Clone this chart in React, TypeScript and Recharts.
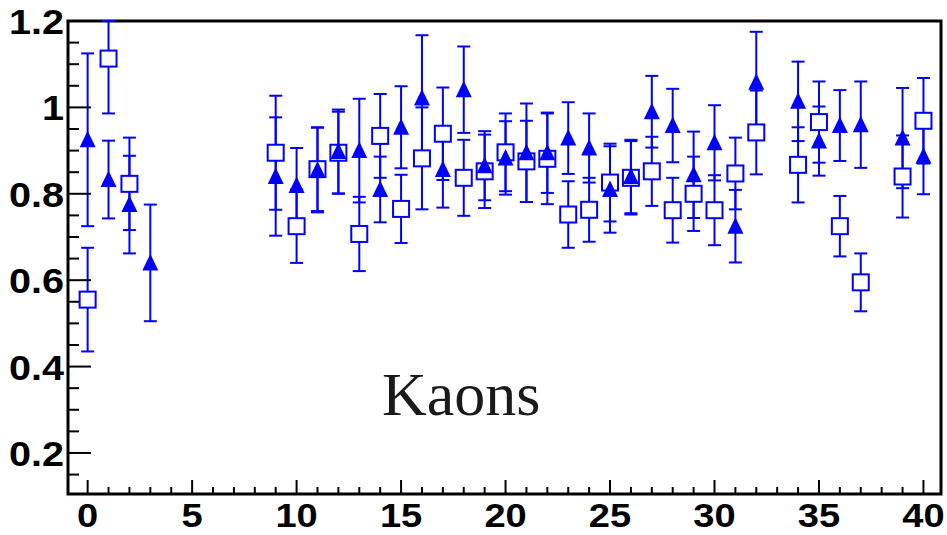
import { ScatterChart, Scatter, XAxis, YAxis, ErrorBar, ReferenceArea } from 'recharts';

// open squares
const squareX = [0, 1, 2, 9, 10, 11, 12, 13, 14, 15, 16, 17, 18, 19, 20, 21, 22, 23, 24, 25, 26, 27, 28, 29, 30, 31, 32, 34, 35, 36, 37, 39, 40];
const squareY = [0.555, 1.113, 0.823, 0.895, 0.725, 0.857, 0.895, 0.707, 0.934, 0.765, 0.882, 0.939, 0.837, 0.852, 0.896, 0.875, 0.881, 0.752, 0.763, 0.826, 0.837, 0.852, 0.762, 0.8, 0.762, 0.847, 0.942, 0.867, 0.966, 0.725, 0.595, 0.84, 0.969];
const squareErr: (number | [number, number])[] = [0.12, [0.127, 0.087], 0.107, 0.132, 0.085, 0.097, 0.095, 0.086, 0.097, 0.079, 0.118, 0.107, 0.088, 0.085, 0.09, 0.094, 0.105, 0.077, 0.074, 0.09, 0.085, 0.08, 0.075, 0.086, 0.081, 0.083, 0.097, 0.087, 0.094, 0.07, 0.067, 0.095, 0.099];

// filled triangles
const triangleX = [0, 1, 2, 3, 9, 10, 11, 12, 13, 14, 15, 16, 17, 18, 19, 20, 21, 22, 23, 24, 25, 26, 27, 28, 29, 30, 31, 32, 34, 35, 36, 37, 39, 40];
const triangleY = [0.925, 0.833, 0.775, 0.64, 0.84, 0.819, 0.855, 0.898, 0.9, 0.81, 0.954, 1.022, 0.856, 1.041, 0.865, 0.883, 0.895, 0.895, 0.929, 0.906, 0.81, 0.84, 0.99, 0.958, 0.844, 0.918, 0.725, 1.058, 1.014, 0.922, 0.958, 0.96, 0.929, 0.887];
const triangleErr = [0.2, 0.09, 0.113, 0.135, 0.137, 0.087, 0.098, 0.097, 0.12, 0.076, 0.095, 0.145, 0.088, 0.1, 0.08, 0.085, 0.114, 0.093, 0.083, 0.08, 0.1, 0.085, 0.083, 0.085, 0.1, 0.087, 0.084, 0.117, 0.092, 0.08, 0.082, 0.1, 0.116, 0.088];

const xMajorTicks = [0, 5, 10, 15, 20, 25, 30, 35, 40];
const yMajorTicks = [0.2, 0.4, 0.6, 0.8, 1, 1.2];
const xTicks = Array.from({ length: 41 }, (_, i) => i);
const yTicks = Array.from({ length: 22 }, (_, i) => Math.round((0.15 + i * 0.05) * 100) / 100);

const xDomain = [-0.94, 40.84];
const yDomain = [0.105, 1.2];

const squareData = squareX.map((x, i) => ({ x, y: squareY[i], err: squareErr[i] }));
const triangleData = triangleX.map((x, i) => ({ x, y: triangleY[i], err: triangleErr[i] }));

const BLUE = '#0000ff';
const TICK_MARGIN = 10;
const labelFont = '"Liberation Sans", Arial, sans-serif';

// ROOT-style inward ticks, labels only on the major ones
const XTick = ({ x, y, payload }: any) => {
  const v = payload.value;
  const major = xMajorTicks.includes(v);
  const axisY = y - TICK_MARGIN;
  return (
    <g>
      <line x1={x} x2={x} y1={axisY} y2={axisY - (major ? 14 : 7)} stroke="#000" strokeWidth={2} />
      {major && (
        <text
          transform={`translate(${x},${axisY + 33}) scale(1.12,1)`}
          textAnchor="middle"
          fill="#000"
          style={{ fontFamily: labelFont, fontWeight: 700, fontSize: 34 }}
        >
          {v}
        </text>
      )}
    </g>
  );
};

const YTick = ({ x, y, payload }: any) => {
  const v = payload.value;
  const major = yMajorTicks.some((t) => Math.abs(t - v) < 1e-6);
  const axisX = x + TICK_MARGIN;
  return (
    <g>
      <line x1={axisX} x2={axisX + (major ? 23 : 11)} y1={y} y2={y} stroke="#000" strokeWidth={2} />
      {major && (
        <text
          transform={`translate(${axisX - 4},${y + 13}) scale(1.1,1)`}
          textAnchor="end"
          fill="#000"
          style={{ fontFamily: labelFont, fontWeight: 700, fontSize: 36 }}
        >
          {String(v)}
        </text>
      )}
    </g>
  );
};

const OpenSquare = ({ cx, cy }: any) => (
  <rect x={cx - 8} y={cy - 8} width={16} height={16} fill="#fff" stroke={BLUE} strokeWidth={2} />
);

const FilledTriangle = ({ cx, cy }: any) => (
  <polygon points={`${cx},${cy - 9} ${cx - 8},${cy + 7.5} ${cx + 8},${cy + 7.5}`} fill={BLUE} />
);

export default function App() {
  return (
    <div style={{ position: 'absolute', left: 0, top: 0, width: 947, height: 535, background: '#fff' }}>
      <ScatterChart width={947} height={535} margin={{ top: 21, right: 6, bottom: 0, left: 0 }}>
        <XAxis
          type="number"
          dataKey="x"
          domain={xDomain}
          allowDataOverflow
          ticks={xTicks}
          interval={0}
          height={41}
          axisLine={false}
          tickLine={false}
          tickSize={0}
          tickMargin={TICK_MARGIN}
          tick={<XTick />}
        />
        <YAxis
          type="number"
          dataKey="y"
          domain={yDomain}
          allowDataOverflow
          ticks={yTicks}
          interval={0}
          width={68}
          axisLine={false}
          tickLine={false}
          tickSize={0}
          tickMargin={TICK_MARGIN}
          tick={<YTick />}
        />
        <Scatter data={squareData} shape={<OpenSquare />} isAnimationActive={false}>
          <ErrorBar dataKey="err" direction="y" width={6.5} stroke={BLUE} strokeWidth={2} />
        </Scatter>
        <Scatter data={triangleData} shape={<FilledTriangle />} isAnimationActive={false}>
          <ErrorBar dataKey="err" direction="y" width={6.5} stroke={BLUE} strokeWidth={2} />
        </Scatter>
        <ReferenceArea
          x1={xDomain[0]}
          x2={xDomain[1]}
          y1={yDomain[0]}
          y2={yDomain[1]}
          fill="none"
          fillOpacity={0}
          stroke="#000"
          strokeWidth={3}
        />
      </ScatterChart>
      <svg width={947} height={535} style={{ position: 'absolute', left: 0, top: 0, pointerEvents: 'none' }}>
        <text x={382} y={415} fill="#1a1a1a" style={{ fontFamily: '"Liberation Serif", "Times New Roman", serif', fontSize: 62 }}>
          Kaons
        </text>
      </svg>
    </div>
  );
}
